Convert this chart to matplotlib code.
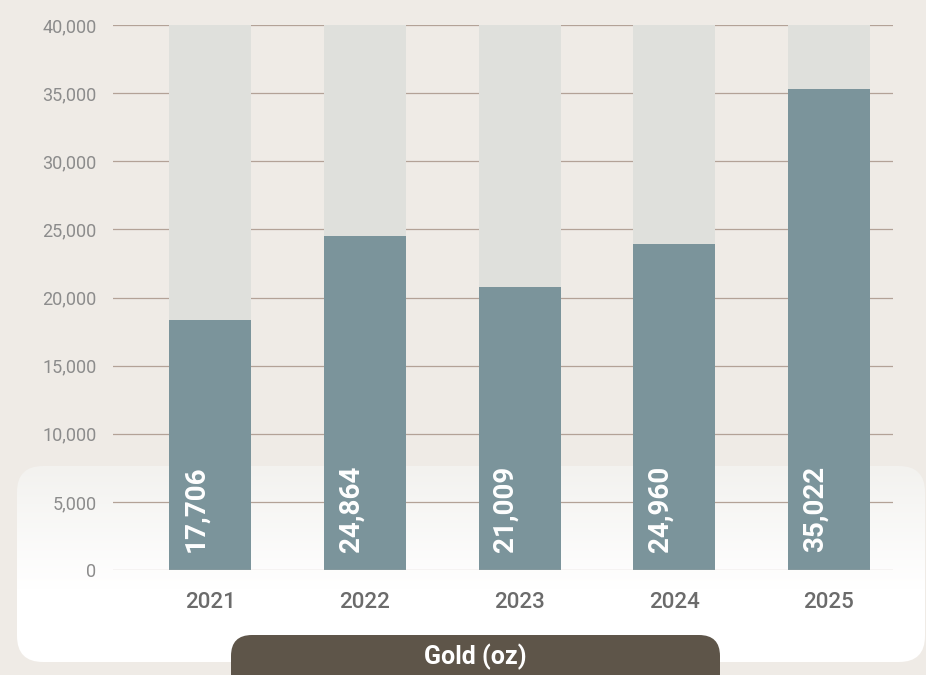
import numpy as np
import matplotlib
matplotlib.use('Agg')
import matplotlib.pyplot as plt
from matplotlib.patches import FancyBboxPatch
from matplotlib.ticker import FuncFormatter

plt.rcParams['font.family'] = ['Roboto', 'DejaVu Sans']

years = ['2021', '2022', '2023', '2024', '2025']
gold_oz = [17706, 24864, 21009, 24960, 35022]          # printed labels
bar_heights = [18350, 24510, 20770, 23930, 35300]      # heights as drawn
y_ticks = [0, 5000, 10000, 15000, 20000, 25000, 30000, 35000, 40000]
title = 'Gold (oz)'

BG = '#efebe6'
BAR = '#7b949b'
TRACK = '#dfe0dc'
GRID = '#b3a297'
PILL = '#5e5549'

W, H = 926, 675
fig = plt.figure(figsize=(W / 100, H / 100), dpi=100, facecolor=BG)

# background layer in pixel coordinates
bg = fig.add_axes([0, 0, 1, 1])
bg.set_xlim(0, W)
bg.set_ylim(H, 0)
bg.axis('off')
box = FancyBboxPatch((17, 466), 908, 196, boxstyle='round,pad=0,rounding_size=26',
                     facecolor='none', edgecolor='none')
bg.add_patch(box)
top = np.array(matplotlib.colors.to_rgb('#f3f2ef'))
bot = np.array([1.0, 1.0, 1.0])
t = np.linspace(0, 1, 200)[:, None, None]
t = np.clip(t * 1.6, 0, 1)
grad = top * (1 - t) + bot * t
grad = np.repeat(grad, 2, axis=1)
im = bg.imshow(grad, extent=(17, 925, 662, 466), origin='upper', aspect='auto', zorder=1)
im.set_clip_path(box)

# main chart axes
x0, x1, y0, y1 = 113, 893, 25, 570
ax = fig.add_axes([x0 / W, 1 - y1 / H, (x1 - x0) / W, (y1 - y0) / H])
ax.patch.set_alpha(0)
pos = np.arange(len(years))
step = 154.75
ax.set_xlim(-(210 - x0) / step, (x1 - 210) / step)
ax.set_ylim(0, 40000)

for y in y_ticks:
    ax.axhline(y, color=GRID if y else '#c4b8b0', linewidth=0.9,
               zorder=1 if y else 5)

width = 82 / step
ax.bar(pos, [40100] * len(years), width=width, color=TRACK, zorder=2)
ax.bar(pos, bar_heights, width=width, color=BAR, zorder=3)

for p, v in zip(pos, gold_oz):
    ax.text(p - 0.09, 1300, f'{v:,}', rotation=90, ha='center', va='bottom',
            color='white', fontsize=20, fontweight='bold', zorder=4)

ax.set_yticks(y_ticks)
ax.yaxis.set_major_formatter(FuncFormatter(lambda v, _: f'{int(v):,}'))
ax.set_xticks(pos)
ax.set_xticklabels(years, fontweight='medium')
ax.tick_params(axis='y', length=0, pad=12, labelsize=13, labelcolor='#8c8c8c')
ax.tick_params(axis='x', length=0, pad=16, labelsize=16, labelcolor='#6b6b6b')
for s in ax.spines.values():
    s.set_visible(False)

# title pill
fg = fig.add_axes([0, 0, 1, 1])
fg.set_xlim(0, W)
fg.set_ylim(H, 0)
fg.axis('off')
fg.patch.set_alpha(0)
pill = FancyBboxPatch((231, 635), 489, 60, boxstyle='round,pad=0,rounding_size=21',
                      facecolor=PILL, edgecolor='none')
fg.add_patch(pill)
fg.text(475, 657, title, ha='center', va='center', color='white',
        fontsize=18, fontweight='bold')

fig.savefig('out.png', dpi=100, facecolor=BG)
